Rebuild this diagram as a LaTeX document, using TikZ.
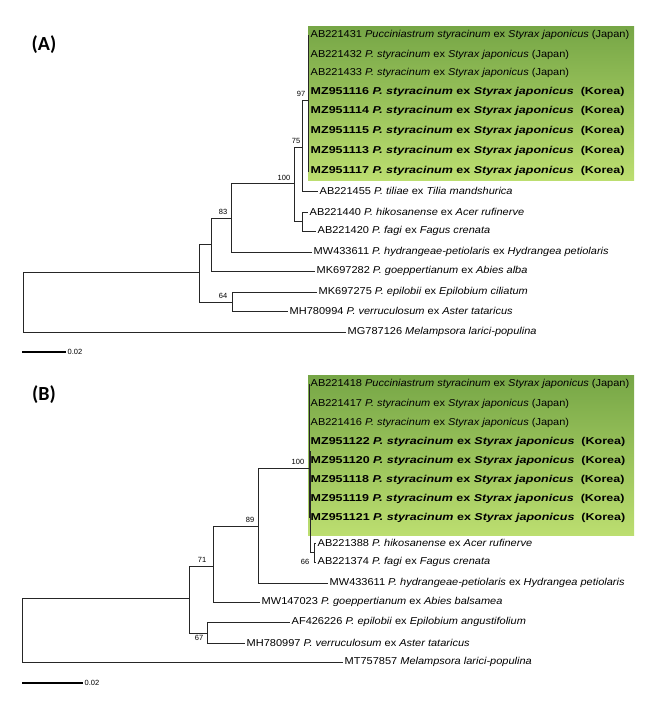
\documentclass[tikz,border=0pt]{standalone}
\usepackage{fontspec}
\setmainfont[FakeStretch=1.1]{Liberation Sans}
\newfontfamily\krfont[FakeStretch=1.25]{Liberation Sans}
\newfontfamily\plainfont{Liberation Sans}
\newfontfamily\lblfont{Carlito}
\begin{document}
\begin{tikzpicture}[x=1pt,y=-1pt,
  leaf/.style={anchor=west,inner sep=1.5pt,font=\fontsize{10}{12}\selectfont},
  br/.style={draw=black!85,line width=0.6pt},
  bs/.style={font=\plainfont\fontsize{7.5}{9}\selectfont,inner sep=1pt},
  panel/.style={font=\lblfont\bfseries\fontsize{20}{22}\selectfont},
  hl/.style={top color={rgb,255:red,118;green,166;blue,70},bottom color={rgb,255:red,188;green,222;blue,112}}]
\useasboundingbox (0,0) rectangle (656,704);
\newcommand{\jp}[1]{#1 \textit{P. styracinum} ex \textit{Styrax japonicus} (Japan)}
\newcommand{\kr}[1]{\krfont\textbf{#1 \textit{P. styracinum} ex \textit{Styrax japonicus} \ (Korea)}}
% ===== Panel A =====
\node[panel] (la) at (44,45) {(A)};
\shade[hl] (308,26) rectangle (634,180);
\foreach \n/\y/\t in {a1/35/{AB221431 \textit{Pucciniastrum styracinum} ex \textit{Styrax japonicus} (Japan)},
  a2/55/{\jp{AB221432}},a3/73/{\jp{AB221433}},a4/92/{\kr{MZ951116}},a5/111/{\kr{MZ951114}},
  a6/131/{\kr{MZ951115}},a7/151/{\kr{MZ951113}},a8/171/{\kr{MZ951117}}}
  {\node[leaf] (\n) at (309,\y) {\t};}
\node[leaf] (a9) at (318,191) {AB221455 \textit{P. tiliae} ex \textit{Tilia mandshurica}};
\node[leaf] (a10) at (308,212) {AB221440 \textit{P. hikosanense} ex \textit{Acer rufinerve}};
\node[leaf] (a11) at (316,231) {AB221420 \textit{P. fagi} ex \textit{Fagus crenata}};
\node[leaf] (a12) at (312,252) {MW433611 \textit{P. hydrangeae-petiolaris} ex \textit{Hydrangea petiolaris}};
\node[leaf] (a13) at (315,271) {MK697282 \textit{P. goeppertianum} ex \textit{Abies alba}};
\node[leaf] (a14) at (317,292) {MK697275 \textit{P. epilobii} ex \textit{Epilobium ciliatum}};
\node[leaf] (a15) at (288,311) {MH780994 \textit{P. verruculosum} ex \textit{Aster tataricus}};
\node[leaf] (a16) at (346,332) {MG787126 \textit{Melampsora larici-populina}};
\coordinate (A97) at (308,100);
\coordinate (A75) at (302,147);
\coordinate (AfB) at (302,221);
\coordinate (A100) at (294,183);
\coordinate (A83) at (231,218);
\coordinate (AX) at (211,244);
\coordinate (A64) at (232,302);
\coordinate (AY) at (199,272);
\coordinate (Ar) at (23,300);
\foreach \c in {a1,a2,a3,a4,a5,a6,a7,a8} \draw[br] (A97) |- (\c.west);
\draw[br] (A75) |- (A97); \draw[br] (A75) |- (a9.west);
\draw[br] (AfB) |- (a10.west); \draw[br] (AfB) |- (a11.west);
\draw[br] (A100) |- (A75); \draw[br] (A100) |- (AfB);
\draw[br] (A83) |- (A100); \draw[br] (A83) |- (a12.west);
\draw[br] (AX) |- (A83); \draw[br] (AX) |- (a13.west);
\draw[br] (A64) |- (a14.west); \draw[br] (A64) |- (a15.west);
\draw[br] (AY) |- (AX); \draw[br] (AY) |- (A64);
\draw[br] (Ar) |- (AY); \draw[br] (Ar) |- (a16.west);
\node[bs] (s97) at (301,94) {97};
\node[bs] (s75) at (296,141) {75};
\node[bs] (s100a) at (284,178) {100};
\node[bs] (s83) at (223,212) {83};
\node[bs] (s64) at (223,296) {64};
\coordinate (sa1) at (22,352); \coordinate (sa2) at (66,352);
\draw[line width=1.2pt] (sa1) -- (sa2) node[right,bs] (sal) {0.02};
% ===== Panel B =====
\node[panel] (lb) at (44,395) {(B)};
\shade[hl] (308,375) rectangle (634,535);
\foreach \n/\y/\t in {b1/384/{AB221418 \textit{Pucciniastrum styracinum} ex \textit{Styrax japonicus} (Japan)},
  b2/404/{\jp{AB221417}},b3/423/{\jp{AB221416}},b4/442/{\kr{MZ951122}},b5/461/{\kr{MZ951120}},
  b6/480/{\kr{MZ951118}},b7/499/{\kr{MZ951119}},b8/518/{\kr{MZ951121}}}
  {\node[leaf] (\n) at (309,\y) {\t};}
\node[leaf] (b9) at (316,543) {AB221388 \textit{P. hikosanense} ex \textit{Acer rufinerve}};
\node[leaf] (b10) at (316,562) {AB221374 \textit{P. fagi} ex \textit{Fagus crenata}};
\node[leaf] (b11) at (328,583) {MW433611 \textit{P. hydrangeae-petiolaris} ex \textit{Hydrangea petiolaris}};
\node[leaf] (b12) at (260,602) {MW147023 \textit{P. goeppertianum} ex \textit{Abies balsamea}};
\node[leaf] (b13) at (290,622) {AF426226 \textit{P. epilobii} ex \textit{Epilobium angustifolium}};
\node[leaf] (b14) at (245,643) {MH780997 \textit{P. verruculosum} ex \textit{Aster tataricus}};
\node[leaf] (b15) at (343,662) {MT757857 \textit{Melampsora larici-populina}};
\coordinate (Bc8) at (309,451);
\coordinate (B66) at (314,552);
\coordinate (B100) at (310,468);
\coordinate (B89) at (258,526);
\coordinate (B71) at (213,566);
\coordinate (B67) at (207,633);
\coordinate (BY) at (189,598);
\coordinate (Br) at (22,630);
\foreach \c in {b1,b2,b3,b4,b5,b6,b7,b8} \draw[br] (Bc8) |- (\c.west);
\draw[br] (B66) |- (b9.west); \draw[br] (B66) |- (b10.west);
\draw[br] (B100) -- (310,451); \draw[br] (B100) |- (B66);
\draw[br] (B89) |- (B100); \draw[br] (B89) |- (b11.west);
\draw[br] (B71) |- (B89); \draw[br] (B71) |- (b12.west);
\draw[br] (B67) |- (b13.west); \draw[br] (B67) |- (b14.west);
\draw[br] (BY) |- (B71); \draw[br] (BY) |- (B67);
\draw[br] (Br) |- (BY); \draw[br] (Br) |- (b15.west);
\node[bs] (s100b) at (298,462) {100};
\node[bs] (s89) at (250,520) {89};
\node[bs] (s71) at (202,560) {71};
\node[bs] (s67) at (199,638) {67};
\node[bs] (s66) at (305,562) {66};
\coordinate (sb1) at (22,683); \coordinate (sb2) at (83,683);
\draw[line width=1.2pt] (sb1) -- (sb2) node[right,bs] (sbl) {0.02};
\end{tikzpicture}
\end{document}
